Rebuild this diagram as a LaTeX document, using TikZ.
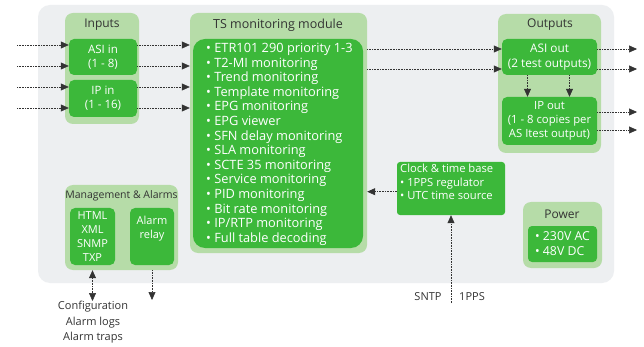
\documentclass[tikz,border=0pt]{standalone}
\usepackage{fontspec}
\setmainfont{Open Sans}
\usetikzlibrary{arrows.meta,calc}
\definecolor{panelgray}{HTML}{EDEFF1}
\definecolor{groupgreen}{HTML}{B6DCA8}
\definecolor{boxgreen}{HTML}{3CB83A}
\definecolor{titlegray}{HTML}{333333}
\tikzset{
  px/.style={x=1pt,y=-1pt},
  grp/.style={fill=groupgreen,rounded corners=8pt,inner sep=0pt},
  box/.style={fill=boxgreen,rounded corners=5pt,inner sep=0pt,text=white,align=center,font=\fontsize{11.5}{14}\selectfont},
  ttl/.style={text=titlegray,font=\fontsize{12}{13}\selectfont,inner sep=0pt},
  lbl/.style={text=titlegray,font=\fontsize{11}{15.5}\selectfont,inner sep=0pt,align=center},
  arr/.style={densely dotted,draw=black!80,line width=0.6pt,-{Triangle[length=8pt,width=7pt]}},
  biarr/.style={densely dotted,draw=black!80,line width=0.6pt,{Triangle[length=8pt,width=7pt]}-{Triangle[length=8pt,width=7pt]}},
}
% rectangle node from pixel corners
\newcommand{\rectnode}[6]{%
  \node[#1,minimum width={#5-#3},minimum height={#6-#4}] (#2) at ({(#3+#5)/2},{(#4+#6)/2}) {};}
\begin{document}
\begin{tikzpicture}[px]
\useasboundingbox (0,0) rectangle (644,347);
\fill[white] (0,0) rectangle (644,347);
% background panel
\fill[panelgray,rounded corners=12pt] (38,5) rectangle (614,283);

% Inputs
\rectnode{grp}{inputs}{65}{13}{139}{124}
\node[ttl] (inputsT) at (102,25) {Inputs};
\rectnode{box}{asiin}{69}{39}{137}{75}
\node[box] at (asiin) {ASI in\\(1 - 8)};
\rectnode{box}{ipin}{69}{80}{137}{117}
\node[box] at (ipin) {IP in\\(1 - 16)};

% TS monitoring module
\rectnode{grp}{ts}{190}{13}{367}{253}
\node[ttl,font=\fontsize{12.5}{14}\selectfont] (tsT) at (278,25) {TS monitoring module};
\rectnode{box,rounded corners=12pt}{tsin}{193}{39}{363}{248}
\node[box,anchor=north west,align=left,font=\fontsize{12.8}{14.6}\selectfont] (tslist) at (206,43) {%
  • ETR101 290 priority 1-3\\
  • T2-MI monitoring\\
  • Trend monitoring\\
  • Template monitoring\\
  • EPG monitoring\\
  • EPG viewer\\
  • SFN delay monitoring\\
  • SLA monitoring\\
  • SCTE 35 monitoring\\
  • Service monitoring\\
  • PID monitoring\\
  • Bit rate monitoring\\
  • IP/RTP monitoring\\
  • Full table decoding};

% Outputs
\rectnode{grp}{outputs}{498}{14}{601}{153}
\node[ttl] (outputsT) at (550,25) {Outputs};
\rectnode{box}{asiout}{502}{39}{597}{75}
\node[box,font=\fontsize{11.8}{14.5}\selectfont] at (asiout) {ASI out\\(2 test outputs)};
\rectnode{box}{ipout}{502}{97}{597}{145}
\node[box,font=\fontsize{11.3}{14}\selectfont] at (ipout) {IP out\\(1 - 8 copies per\\AS Itest output)};

% Clock & time base
\rectnode{box,rounded corners=3pt}{clock}{397}{162}{505}{215}
\node[box,align=left,anchor=north west,font=\fontsize{11.2}{13.5}\selectfont] at (400,164) {Clock \& time base\\• 1PPS regulator\\• UTC time source};

% Power
\rectnode{grp}{power}{523}{202}{602}{268}
\node[ttl] (powerT) at (562,214) {Power};
\rectnode{box,rounded corners=4pt}{powin}{528}{226}{597}{262}
\node[box,align=left,font=\fontsize{12.3}{15}\selectfont] at (powin) {• 230V AC\\• 48V DC};

% Management & Alarms
\rectnode{grp}{mgmt}{65}{185}{178}{270}
\node[ttl,font=\fontsize{10.5}{12}\selectfont] (mgmtT) at (121.5,196) {Management \& Alarms};
\rectnode{box}{html}{70}{208}{115}{265}
\node[box,font=\fontsize{11}{14}\selectfont] at (html) {HTML\\XML\\SNMP\\TXP};
\rectnode{box}{relay}{130}{208}{174}{265}
\node[box,anchor=north,font=\fontsize{11}{14}\selectfont] at (152,216) {Alarm\\relay};

% external labels
\node[lbl,anchor=north] (cfg) at (93,301) {Configuration\\Alarm logs\\Alarm traps};
\node[lbl] (sntp) at (428,297) {SNTP};
\node[lbl] (pps) at (472,297) {1PPS};

% free ends of connectors
\coordinate (in1) at (17,45);
\coordinate (in2) at (17,66);
\coordinate (in3) at (17,87);
\coordinate (in4) at (17,108);
\coordinate (o1) at (637,49);
\coordinate (o2) at (637,69);
\coordinate (o3) at (637,112);
\coordinate (o4) at (637,130);
\coordinate (relayend) at (152,300);
\coordinate (syncin) at (451,303);

% inputs into the input boxes and on to the module
\foreach \c/\b in {in1/asiin,in2/asiin,in3/ipin,in4/ipin}{
  \draw[arr] (\c) -- (\c -| \b.west);
  \draw[arr] (\c -| \b.east) -- (\c -| ts.west);
}
% module to ASI out
\draw[arr] (o1 -| ts.east) -- (o1 -| asiout.west);
\draw[arr] (o2 -| ts.east) -- (o2 -| asiout.west);
% output ports
\draw[arr] (o1 -| asiout.east) -- (o1);
\draw[arr] (o2 -| asiout.east) -- (o2);
\draw[arr] (o3 -| ipout.east) -- (o3);
\draw[arr] (o4 -| ipout.east) -- (o4);
% ASI out to IP out
\draw[arr] ([xshift=-22pt]asiout.south) -- ([xshift=-22pt]ipout.north);
\draw[arr] ([xshift=20pt]asiout.south) -- ([xshift=20pt]ipout.north);
% clock to module
\draw[arr] (clock.west) ++(0,3.2) coordinate (ck) (ck) -- (ck -| ts.east);
% sync inputs to clock
\draw[arr] (syncin) -- (clock.south);
% management connectors
\draw[biarr] (html.south |- mgmt.south) -- (html.south |- cfg.north);
\draw[arr] (relay.south |- mgmt.south) -- (relayend);
\end{tikzpicture}
\end{document}
